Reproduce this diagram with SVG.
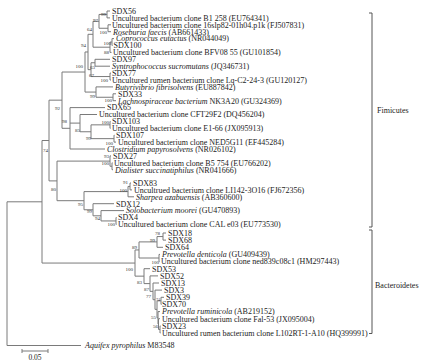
<svg xmlns="http://www.w3.org/2000/svg" width="426" height="363" viewBox="0 0 426 363">
<style>
.br{fill:none;stroke:#7a7a7a;stroke-width:1}
.bk{fill:none;stroke:#555;stroke-width:1}
text{font-family:"Liberation Serif","Times New Roman",serif;fill:#222}
.lf{font-size:8px}
.it{font-style:italic}
.bs{font-size:5px;text-anchor:end;fill:#333}
.cl{font-size:8px}
</style>
<rect width="426" height="363" fill="#fff"/>
<g id="connectors">
<path class="br" d="M110,11H107V17.9H110"/>
<path class="br" d="M111,24.8H108V31.7H111"/>
<path class="br" d="M107,14.45H99V28.25H108"/>
<path class="br" d="M114,38.6H112V45.5H112.5"/>
<path class="br" d="M112,42.05H110V52.4H111.5"/>
<path class="br" d="M99,21.35H93V47.2H110"/>
<path class="br" d="M110,59.3H95V66.2H110"/>
<path class="br" d="M111,73.1H110V80H111"/>
<path class="br" d="M95,62.75H91V76.55H110"/>
<path class="br" d="M93,34.3H88V69.65H91"/>
<path class="br" d="M116,93.8H113V100.7H116"/>
<path class="br" d="M113,86.9H96V97.25H113"/>
<path class="br" d="M88,51.97H85V92.07H96"/>
<path class="br" d="M110.5,121.4H110V128.3H110.5"/>
<path class="br" d="M114.5,135.2H114V142.1H116"/>
<path class="br" d="M110,124.85H91V138.65H114"/>
<path class="br" d="M97,114.5H80V131.75H91"/>
<path class="br" d="M105,107.6H70V149H105M70,123.1H80"/>
<path class="br" d="M85,72.02H62V128.3H70"/>
<path class="br" d="M112.5,162.8H112V169.7H113"/>
<path class="br" d="M111,155.9H110V166.25H112"/>
<path class="br" d="M131,183H130V189.9H132"/>
<path class="br" d="M130,186.45H128V196.8H134"/>
<path class="br" d="M116.5,217.5H116V224.4H116.5"/>
<path class="br" d="M124,210.6H101V220.95H116"/>
<path class="br" d="M114,203.7H93V215.8H101"/>
<path class="br" d="M128,191.6H84V209.75H93"/>
<path class="br" d="M110,161.1H57V200.7H84"/>
<path class="br" d="M62,100.16H49V180.9H57"/>
<path class="br" d="M166,233H163V240.1H166"/>
<path class="br" d="M163,236.55H157V247.3H163"/>
<path class="br" d="M160,254.4H159V261.6H159.5"/>
<path class="br" d="M157,241.9H139V258H159"/>
<path class="br" d="M160.5,325.9H160V333H160.5"/>
<path class="br" d="M160,318.7H158.5V329.45H160"/>
<path class="br" d="M160,311.6H158V324.1H158.5"/>
<path class="br" d="M164,297.3H161V304.4H161.5"/>
<path class="br" d="M161,300.85H157V317.85H158"/>
<path class="br" d="M162,290.1H155V309.35H157"/>
<path class="br" d="M159,283H153V299.7H155"/>
<path class="br" d="M158,275.9H150V291.35H153"/>
<path class="br" d="M150,268.7H144V283.6H150"/>
<path class="br" d="M139,249.95H135V276.15H144"/>
<path class="br" d="M49,140.5H42V263.05H135"/>
<path class="br" d="M42,201.8H7V345.5H81"/>
<path class="bk" d="M369,13H372V227H369"/>
<path class="bk" d="M369,230H372V333.5H369"/>
<path class="br" d="M22,349V353M22,351H48M48,349V353"/>
</g>
<g id="bootstrap">
<text class="bs" x="106" y="15.5">99</text>
<text class="bs" x="98" y="22">97</text>
<text class="bs" x="92" y="31">64</text>
<text class="bs" x="107" y="33.5">100</text>
<text class="bs" x="86" y="47">94</text>
<text class="bs" x="111" y="44.5">100</text>
<text class="bs" x="109" y="54">88</text>
<text class="bs" x="83" y="67.5">100</text>
<text class="bs" x="95" y="68.5">63</text>
<text class="bs" x="94" y="77">67</text>
<text class="bs" x="108" y="82">100</text>
<text class="bs" x="95" y="97.5">99</text>
<text class="bs" x="112" y="101.5">100</text>
<text class="bs" x="60" y="109.5">92</text>
<text class="bs" x="67" y="123">98</text>
<text class="bs" x="109" y="124">100</text>
<text class="bs" x="80" y="132">85</text>
<text class="bs" x="91" y="139.5">99</text>
<text class="bs" x="113" y="144.5">100</text>
<text class="bs" x="48" y="152">74</text>
<text class="bs" x="109" y="158">93</text>
<text class="bs" x="109" y="164.5">100</text>
<text class="bs" x="56" y="190.5">80</text>
<text class="bs" x="128" y="184">91</text>
<text class="bs" x="127" y="192">100</text>
<text class="bs" x="83" y="205.5">95</text>
<text class="bs" x="92" y="212.5">99</text>
<text class="bs" x="100" y="219.5">94</text>
<text class="bs" x="115" y="226">100</text>
<text class="bs" x="160" y="234.5">78</text>
<text class="bs" x="155" y="241.5">99</text>
<text class="bs" x="137" y="248.5">89</text>
<text class="bs" x="159" y="263.5">100</text>
<text class="bs" x="133" y="270.5">100</text>
<text class="bs" x="142" y="283.5">83</text>
<text class="bs" x="149" y="290.5">87</text>
<text class="bs" x="151" y="297.5">77</text>
<text class="bs" x="160" y="300.5" style="font-size:4px">74</text>
<text class="bs" x="156" y="318.5">55</text>
<text class="bs" x="158" y="327.5">56</text>
</g>
<g id="leaf-SDX56"><text class="lf" x="112" y="13.8">SDX56</text></g>
<g id="leaf-B1-258"><text class="lf" x="112" y="20.7">Uncultured bacterium clone B1 258 (EU764341)</text></g>
<g id="leaf-16slp82"><text class="lf" x="112" y="27.6">Uncultured bacterium clone 16slp82-01h04.p1k (FJ507831)</text></g>
<g id="leaf-Roseburia"><text class="lf" x="113" y="34.5"><tspan class="it">Roseburia faecis</tspan> (AB661433)</text></g>
<g id="leaf-Coprococcus"><text class="lf" x="116" y="41.4"><tspan class="it">Coprococcus eutactus</tspan> (NR044049)</text></g>
<g id="leaf-SDX100"><text class="lf" x="113.5" y="48.3">SDX100</text></g>
<g id="leaf-BFV08"><text class="lf" x="113" y="55.2">Uncultured bacterium clone BFV08 55 (GU101854)</text></g>
<g id="leaf-SDX97"><text class="lf" x="112" y="62.1">SDX97</text></g>
<g id="leaf-Syntrophococcus"><text class="lf" x="112" y="69"><tspan class="it">Syntrophococcus sucromutans</tspan> (JQ346731)</text></g>
<g id="leaf-SDX77"><text class="lf" x="112" y="75.9">SDX77</text></g>
<g id="leaf-LqC2"><text class="lf" x="112" y="82.8">Uncultured rumen bacterium clone Lq-C2-24-3 (GU120127)</text></g>
<g id="leaf-Butyrivibrio"><text class="lf" x="115" y="89.7"><tspan class="it">Butyrivibrio fibrisolvens</tspan> (EU887842)</text></g>
<g id="leaf-SDX33"><text class="lf" x="118" y="96.6">SDX33</text></g>
<g id="leaf-Lachnospiraceae"><text class="lf" x="118" y="103.5"><tspan class="it">Lachnospiraceae bacterium</tspan> NK3A20 (GU324369)</text></g>
<g id="leaf-SDX65"><text class="lf" x="107" y="110.4">SDX65</text></g>
<g id="leaf-CFT29F2"><text class="lf" x="99" y="117.3">Uncultured bacterium clone CFT29F2 (DQ456204)</text></g>
<g id="leaf-SDX103"><text class="lf" x="112" y="124.2">SDX103</text></g>
<g id="leaf-E1-66"><text class="lf" x="112" y="131.1">Uncultured bacterium clone E1-66 (JX095913)</text></g>
<g id="leaf-SDX107"><text class="lf" x="116" y="138">SDX107</text></g>
<g id="leaf-NED5G11"><text class="lf" x="118" y="144.9">Uncultured bacterium clone NED5G11 (EF445284)</text></g>
<g id="leaf-Clostridium"><text class="lf" x="107" y="151.8"><tspan class="it">Clostridium papyrosolvens</tspan> (NR026102)</text></g>
<g id="leaf-SDX27"><text class="lf" x="113" y="158.7">SDX27</text></g>
<g id="leaf-B5-754"><text class="lf" x="114" y="165.6">Uncultured bacterium clone B5 754 (EU766202)</text></g>
<g id="leaf-Dialister"><text class="lf" x="115" y="172.5"><tspan class="it">Dialister succinatiphilus</tspan> (NR041666)</text></g>
<g id="leaf-SDX83"><text class="lf" x="133" y="185.8">SDX83</text></g>
<g id="leaf-LI142"><text class="lf" x="134" y="192.7">Uncultrued bacterium clone LI142-3O16 (FJ672356)</text></g>
<g id="leaf-Sharpea"><text class="lf" x="136" y="199.6"><tspan class="it">Sharpea azabuensis</tspan> (AB360600)</text></g>
<g id="leaf-SDX12"><text class="lf" x="116" y="206.5">SDX12</text></g>
<g id="leaf-Solobacterium"><text class="lf" x="126" y="213.4"><tspan class="it">Solobacterium moorei</tspan> (GU470893)</text></g>
<g id="leaf-SDX4"><text class="lf" x="118" y="220.3">SDX4</text></g>
<g id="leaf-CAL-e03"><text class="lf" x="118" y="227.2">Uncultured bacterium clone CAL e03 (EU773530)</text></g>
<g id="leaf-SDX18"><text class="lf" x="168" y="235.8">SDX18</text></g>
<g id="leaf-SDX68"><text class="lf" x="168" y="242.9">SDX68</text></g>
<g id="leaf-SDX64"><text class="lf" x="165" y="250.1">SDX64</text></g>
<g id="leaf-Pdenticola"><text class="lf" x="162" y="257.2"><tspan class="it">Prevotella denticola</tspan> (GU409439)</text></g>
<g id="leaf-ned839"><text class="lf" x="161" y="264.4">Uncultured bacterium clone ned839c08c1 (HM297443)</text></g>
<g id="leaf-SDX53"><text class="lf" x="152" y="271.5">SDX53</text></g>
<g id="leaf-SDX52"><text class="lf" x="160" y="278.7">SDX52</text></g>
<g id="leaf-SDX13"><text class="lf" x="161" y="285.8">SDX13</text></g>
<g id="leaf-SDX3"><text class="lf" x="164" y="292.9">SDX3</text></g>
<g id="leaf-SDX39"><text class="lf" x="166" y="300.1">SDX39</text></g>
<g id="leaf-SDX70"><text class="lf" x="162" y="307.2">SDX70</text></g>
<g id="leaf-Pruminicola"><text class="lf" x="162" y="314.4"><tspan class="it">Prevotella ruminicola</tspan> (AB219152)</text></g>
<g id="leaf-Fal-53"><text class="lf" x="162" y="321.5">Uncultured bacterium clone Fal-53 (JX095004)</text></g>
<g id="leaf-SDX23"><text class="lf" x="162" y="328.7">SDX23</text></g>
<g id="leaf-L102RT"><text class="lf" x="162" y="335.8">Uncultured rumen bacterium clone L102RT-1-A10 (HQ399991)</text></g>
<g id="leaf-Aquifex"><text class="lf" x="85" y="348.3"><tspan class="it">Aquifex pyrophilus</tspan> M83548</text></g>
<g id="clade-Firmicutes"><text class="cl" x="377" y="113">Fimicutes</text></g>
<g id="clade-Bacteroidetes"><text class="cl" x="375" y="288">Bacteroidetes</text></g>
<g id="scale"><text x="35" y="360" style="font-size:7.5px;text-anchor:middle">0.05</text></g>
</svg>
